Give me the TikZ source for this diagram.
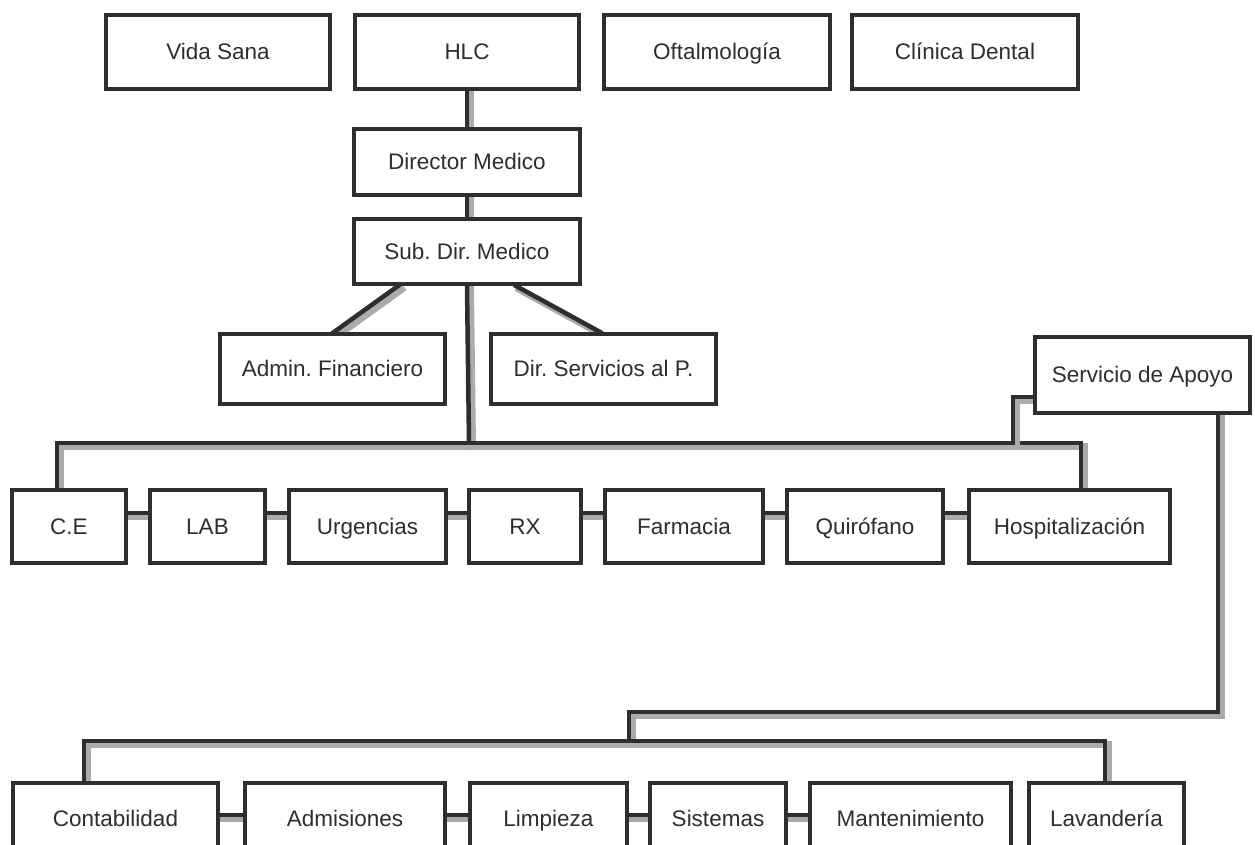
\documentclass[tikz,border=0pt]{standalone}
\usepackage{fontspec}
\setmainfont{Liberation Sans}
\usetikzlibrary{backgrounds}
\definecolor{ink}{HTML}{2E2E2E}
\definecolor{shade}{HTML}{ABABAB}
\frenchspacing
\begin{document}
\begin{tikzpicture}[x=1pt,y=-1pt,
  lbl/.style={text=ink, font=\fontsize{22.5}{26}\selectfont, text height=16pt, text depth=1pt, inner sep=0pt},
  box/.style={draw=ink, line width=4pt, fill=white, inner sep=0pt, lbl},
  conn/.style={draw=ink, line width=4.5pt, line cap=rect,
    preaction={draw=shade, line width=7pt, line cap=rect, transform canvas={xshift=3.5pt,yshift=-3.5pt}}}]
\clip (0,0) rectangle (1255,844);
% top row
\node[box, minimum width=224, minimum height=74] (vida) at (218,52) {Vida Sana};
\node[box, minimum width=224, minimum height=74] (hlc) at (467,52) {HLC};
\node[box, minimum width=226, minimum height=74] (oft) at (717,52) {Oftalmología};
\node[box, minimum width=226, minimum height=74] (dental) at (965,52) {Clínica Dental};
% direction
\node[box, minimum width=226, minimum height=66] (dir) at (467,162) {Director Medico};
\node[box, minimum width=226, minimum height=65] (sub) at (467,251.5) {Sub. Dir. Medico};
\node[box, minimum width=225, minimum height=70] (adm) at (332.5,369) {Admin. Financiero};
\node[box, minimum width=225, minimum height=70] (dsp) at (603.5,369) {Dir. Servicios al P.};
\node[box, minimum width=215, minimum height=76] (apoyo) at (1142.5,375) {Servicio de Apoyo};
% middle row
\node[box, minimum width=114, minimum height=73] (ce) at (69,526.5) {C.E};
\node[box, minimum width=115, minimum height=73] (lab) at (207.5,526.5) {LAB};
\node[box, minimum width=157, minimum height=73] (urg) at (367.5,526.5) {Urgencias};
\node[box, minimum width=112, minimum height=73] (rx) at (525,526.5) {RX};
\node[box, minimum width=158, minimum height=73] (far) at (684,526.5) {Farmacia};
\node[box, minimum width=156, minimum height=73] (qui) at (865,526.5) {Quirófano};
\node[box, minimum width=201, minimum height=73] (hos) at (1069.5,526.5) {Hospitalización};
% bottom row
\node[box, minimum width=205, minimum height=96] (con) at (115.5,831) {};
\node[lbl] (tcon) at (115.5,819) {Contabilidad};
\node[box, minimum width=200, minimum height=96] (adms) at (345,831) {};
\node[lbl] (tadms) at (345,819) {Admisiones};
\node[box, minimum width=157, minimum height=96] (lim) at (548.5,831) {};
\node[lbl] (tlim) at (548.5,819) {Limpieza};
\node[box, minimum width=136, minimum height=96] (sis) at (718,831) {};
\node[lbl] (tsis) at (718,819) {Sistemas};
\node[box, minimum width=201, minimum height=96] (man) at (910.5,831) {};
\node[lbl] (tman) at (910.5,819) {Mantenimiento};
\node[box, minimum width=155, minimum height=96] (lav) at (1106.5,831) {};
\node[lbl] (tlav) at (1106.5,819) {Lavandería};
% bus coordinates
\coordinate (busL) at (57,443);
\coordinate (busR) at (1081,443);
\coordinate (busS) at (469,443);
\coordinate (apK) at (1013,397);
\coordinate (apB) at (1013,443);
\coordinate (ap1) at (1218,712);
\coordinate (ap2) at (629,712);
\coordinate (ap3) at (629,741);
\coordinate (bL) at (84,741);
\coordinate (bR) at (1105,741);
\coordinate (sdl) at (398,286);
\coordinate (sdr) at (516,286);
\coordinate (adt) at (334,332);
\coordinate (dst) at (600,332);
\begin{pgfonlayer}{background}
\fill[white] (0,0) rectangle (1255,844);
\draw[conn] (hlc.south) -- (dir.north);
\draw[conn] (dir.south) -- (sub.north);
\draw[conn] (sdl) -- (adt);
\draw[conn] (sdr) -- (dst);
\draw[conn] (sub.south) -- (busS);
\draw[conn] (ce.north -| busL) -- (busL) -- (busR) -- (hos.north -| busR);
\draw[conn] (apoyo.west |- apK) -- (apK) -- (apB);
\draw[conn] (ce.east |- 0,513) -- (lab.west |- 0,513);
\draw[conn] (lab.east |- 0,513) -- (urg.west |- 0,513);
\draw[conn] (urg.east |- 0,513) -- (rx.west |- 0,513);
\draw[conn] (rx.east |- 0,513) -- (far.west |- 0,513);
\draw[conn] (far.east |- 0,513) -- (qui.west |- 0,513);
\draw[conn] (qui.east |- 0,513) -- (hos.west |- 0,513);
\draw[conn] (apoyo.south -| ap1) -- (ap1) -- (ap2) -- (ap3);
\draw[conn] (con.north -| bL) -- (bL) -- (bR) -- (lav.north -| bR);
\draw[conn] (con.east |- 0,815) -- (adms.west |- 0,815);
\draw[conn] (adms.east |- 0,815) -- (lim.west |- 0,815);
\draw[conn] (lim.east |- 0,815) -- (sis.west |- 0,815);
\draw[conn] (sis.east |- 0,815) -- (man.west |- 0,815);
\end{pgfonlayer}
\end{tikzpicture}
\end{document}
